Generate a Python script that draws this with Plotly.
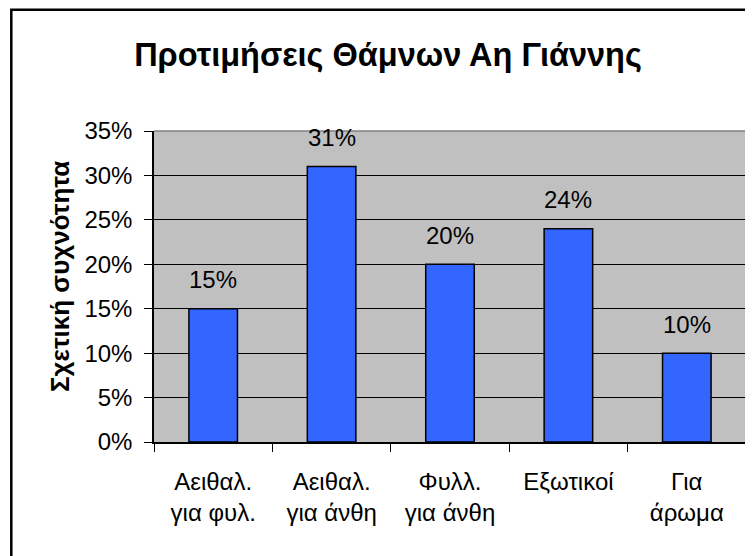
import plotly.graph_objects as go

categories = ["Αειθαλ.<br>για φυλ.", "Αειθαλ.<br>για άνθη", "Φυλλ.<br>για άνθη", "Εξωτικοί", "Για<br>άρωμα"]
values = [0.15, 0.31, 0.20, 0.24, 0.10]
value_labels = ["15%", "31%", "20%", "24%", "10%"]
y_ticks = [0, 0.05, 0.10, 0.15, 0.20, 0.25, 0.30, 0.35]
y_tick_text = ["0%", "5%", "10%", "15%", "20%", "25%", "30%", "35%"]
title_text = "Προτιμήσεις Θάμνων Αη Γιάννης"
y_title = "Σχετική συχνότητα"

FONT = "Liberation Sans, Arial, sans-serif"
# the page body has an 8px margin, so the figure is placed 8px in
W, H = 745, 548
L, R, T, B = 146, 7, 123, 114
pw, ph = W - L - R, H - T - B

fig = go.Figure()
fig.add_trace(go.Bar(
    x=categories, y=values,
    marker=dict(color="#3366FF", line=dict(color="black", width=1.5)),
    width=0.41,
    hoverinfo="skip",
))

for c, v, t in zip(categories, values, value_labels):
    fig.add_annotation(x=c, y=v, text=t, showarrow=False, yshift=29,
                       font=dict(family=FONT, size=24, color="black"))

def px_x(p):
    return (p - L) / pw

def px_y(p):
    return (H - B - p) / ph

# y-axis title as a rotated annotation
fig.add_annotation(xref="paper", yref="paper", x=px_x(52), y=px_y(269),
                   text="<b>" + y_title + "</b>", textangle=-90, showarrow=False,
                   xanchor="center", yanchor="middle",
                   font=dict(family=FONT, size=26, color="black"))

shapes = [
    # outer border
    dict(type="rect", xref="paper", yref="paper",
         x0=px_x(3.3), x1=px_x(W + 20), y0=px_y(H + 20), y1=px_y(1.8),
         line=dict(color="black", width=2.5), layer="above"),
    # plot area gray top and right border
    dict(type="line", xref="paper", yref="paper", x0=0, x1=1, y0=1, y1=1,
         line=dict(color="#808080", width=1.5), layer="above"),
    dict(type="line", xref="paper", yref="paper", x0=1, x1=1, y0=0, y1=1,
         line=dict(color="#808080", width=1.5), layer="above"),
]

fig.update_layout(
    width=W, height=H,
    margin=dict(l=L, r=R, t=T, b=B, autoexpand=False),
    paper_bgcolor="white",
    plot_bgcolor="#C0C0C0",
    showlegend=False,
    font=dict(family=FONT, size=24, color="black"),
    title=dict(text="<b>" + title_text + "</b>", xref="container", yref="container",
               x=380 / W, xanchor="center", y=1 - 47 / H, yanchor="middle",
               font=dict(family=FONT, size=32.5, color="black")),
    shapes=shapes,
    xaxis=dict(
        type="category",
        showline=True, linecolor="black", linewidth=1.5,
        ticks="outside", ticklen=8, tickcolor="black", tickwidth=1,
        tickson="boundaries",
        ticklabelstandoff=17,
        showgrid=False,
        tickfont=dict(family=FONT, size=24),
        range=[-0.5, 4.5],
    ),
    yaxis=dict(
        range=[0, 0.35],
        tickvals=y_ticks, ticktext=y_tick_text,
        showline=True, linecolor="black", linewidth=1.5,
        ticks="outside", ticklen=8, tickcolor="black", tickwidth=1,
        ticklabelstandoff=7,
        showgrid=True, gridcolor="black", gridwidth=1,
        zeroline=False,
        tickfont=dict(family=FONT, size=24),
    ),
)

fig.write_html("out.html")
